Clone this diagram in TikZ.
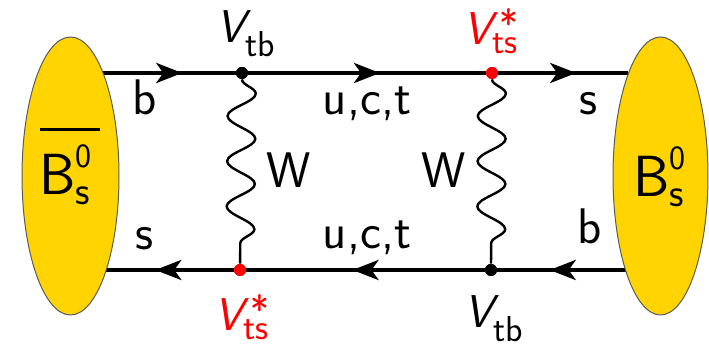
\documentclass[tikz,border=0pt]{standalone}
\usepackage{fontspec}
\usetikzlibrary{arrows.meta,decorations.markings,decorations.pathmorphing,shapes.geometric}
\definecolor{bgold}{RGB}{255,212,0}
\definecolor{bedge}{RGB}{90,90,90}
\newcommand{\ckmVtb}{{\fontsize{23}{23}\selectfont\itshape V}\raisebox{-7pt}{\fontsize{18}{18}\selectfont tb}}
\newcommand{\ckmVts}{{\fontsize{23}{23}\selectfont\itshape V}\rlap{\hspace{3.5pt}\raisebox{3pt}{\fontsize{20}{20}\selectfont *}}\raisebox{-4.5pt}{\fontsize{18}{18}\selectfont ts}}
\newcommand{\ckmB}{{\fontsize{29}{29}\selectfont B}\rlap{\raisebox{13.5pt}{\fontsize{17}{17}\selectfont 0}}\raisebox{-5pt}{\fontsize{20}{20}\selectfont s}}
\begin{document}
\begin{tikzpicture}[x=0.5pt,y=-0.5pt,
  fline/.style={line width=2pt},
  midarrow/.style={postaction={decorate,decoration={markings,
    mark=at position 0.5 with {\arrow[xshift=6.5pt]{Stealth[length=13pt,width=10pt,inset=3.5pt]}}}}},
  wave/.style={decorate,decoration={snake,segment length=22.6pt,amplitude=7pt},line width=1.2pt},
  dot/.style={circle,fill=black,inner sep=0pt,minimum size=6pt},
  reddot/.style={dot,fill=red},
  meson/.style={ellipse,draw=bedge,line width=0.5pt,fill=bgold,inner sep=0pt,minimum width=48.5pt,minimum height=139pt},
  lab/.style={font=\sffamily\fontsize{25}{30}\selectfont,inner sep=0pt,anchor=base},
  vlab/.style={font=\sffamily,inner sep=0pt,anchor=base west},
  blab/.style={font=\sffamily,inner sep=0pt,anchor=base west}]
\useasboundingbox (0,0) rectangle (709,346);
% line ends and vertices
\coordinate (tl) at (103,73);
\coordinate (tr) at (628,73);
\coordinate (bl) at (103,270);
\coordinate (br) at (628,270);
\node[dot] (v1) at (242,73) {};
\node[reddot] (v2) at (492,73) {};
\node[reddot] (v3) at (240,270) {};
\node[dot] (v4) at (491,270) {};
% quark lines
\draw[fline,midarrow] (tl) -- (v1);
\draw[fline,midarrow] (v1) -- (v2);
\draw[fline,midarrow] (v2) -- (tr);
\draw[fline,midarrow] (br) -- (v4);
\draw[fline,midarrow] (v4) -- (v3);
\draw[fline,midarrow] (v3) -- (bl);
% W lines
\draw[wave] (v1) -- (v3);
\draw[wave] (v2) -- (v4);
% redraw vertices on top
\node[dot] at (v1) {};
\node[reddot] at (v2) {};
\node[reddot] at (v3) {};
\node[dot] at (v4) {};
% mesons
\node[meson] (El) at (70.5,176) {};
\node[meson,minimum width=47.5pt] (Er) at (660.5,176) {};
\node[blab] (Bl) at (39,195) {\ckmB};
\node[blab] (Br) at (633,197) {\ckmB};
\draw[line width=1.5pt] ([xshift=0.5pt,yshift=32.5pt]Bl.base west) -- ([xshift=30.5pt,yshift=32.5pt]Bl.base west);
% labels
\node[lab] (lb1) at (145,115) {b};
\node[lab] (lu1) at (367,115) {u,c,t};
\node[lab] (ls1) at (589,115) {s};
\node[lab] (ls2) at (144,250) {s};
\node[lab] (lu2) at (367,249) {u,c,t};
\node[lab] (lb2) at (590,244) {b};
\node[lab] (W1) at (289,188) {W};
\node[lab] (W2) at (444,188) {W};
\node[vlab] (V1) at (216,43) {\ckmVtb};
\node[vlab,text=red] (V2) at (463,45) {\ckmVts};
\node[vlab,text=red] (V3) at (214,331) {\ckmVts};
\node[vlab] (V4) at (464,328) {\ckmVtb};
\end{tikzpicture}
\end{document}
